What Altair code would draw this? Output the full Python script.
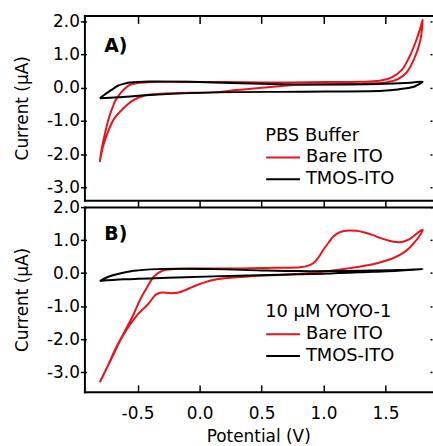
import altair as alt
import pandas as pd

FONT = "DejaVu Sans"
RED = "#e8141b"

# Cyclic voltammograms, potential (V) and current (µA) in scan order.
# Panel A: PBS buffer
a_bare_v = [-0.805, -0.79, -0.77, -0.75, -0.73, -0.70, -0.68, -0.65, -0.62, -0.56, -0.48, -0.40,
            -0.20, 0.20, 0.60, 1.00, 1.30, 1.45, 1.55, 1.63, 1.69, 1.746, 1.785, 1.80,
            1.795, 1.78, 1.73, 1.67, 1.60, 1.50, 1.40, 1.20, 0.80, 0.50, 0.30, 0.11, -0.18,
            -0.34, -0.45, -0.54, -0.62, -0.69, -0.74, -0.78, -0.805]
a_bare_i = [-2.24, -1.85, -1.49, -1.17, -0.89, -0.58, -0.39, -0.22, -0.09, 0.09, 0.15, 0.17,
            0.18, 0.17, 0.16, 0.17, 0.18, 0.21, 0.31, 0.53, 0.91, 1.41, 1.85, 2.06,
            1.80, 1.41, 0.86, 0.46, 0.26, 0.16, 0.13, 0.11, 0.09, 0.00, -0.07, -0.14, -0.16,
            -0.19, -0.24, -0.39, -0.64, -0.94, -1.34, -1.79, -2.24]
a_tmos_v = [-0.805, -0.77, -0.74, -0.70, -0.66, -0.60, -0.56, -0.40, -0.10, 0.11, 0.50, 0.81,
            1.20, 1.50, 1.70, 1.80, 1.76, 1.72, 1.60, 1.48, 0.81, 0.11, -0.40, -0.66, -0.805]
a_tmos_i = [-0.32, -0.22, -0.14, -0.04, 0.06, 0.13, 0.16, 0.19, 0.18, 0.16, 0.12, 0.10,
            0.10, 0.12, 0.15, 0.18, 0.09, 0.02, -0.05, -0.09, -0.12, -0.14, -0.22, -0.29, -0.32]

# Panel B: 10 µM YOYO-1
b_bare_v = [-0.805, -0.74, -0.68, -0.61, -0.54, -0.48, -0.42, -0.37, -0.30, -0.20, -0.05, 0.30,
            0.60, 0.81, 0.87, 0.917, 0.96, 0.997, 1.04, 1.077, 1.12, 1.157, 1.21, 1.264,
            1.33, 1.398, 1.46, 1.53, 1.59, 1.64, 1.69, 1.72, 1.76, 1.80,
            1.77, 1.73, 1.69, 1.63, 1.56, 1.48, 1.398, 1.30, 1.21, 1.077, 0.81, 0.41,
            0.20, 0.11, 0.06, -0.02, -0.10, -0.17, -0.235, -0.30, -0.33, -0.355, -0.42,
            -0.50, -0.57, -0.635, -0.70, -0.765, -0.805]
b_bare_i = [-3.31, -2.81, -2.31, -1.81, -1.31, -0.81, -0.41, -0.11, 0.07, 0.12, 0.14, 0.14,
            0.16, 0.18, 0.22, 0.30, 0.48, 0.70, 0.92, 1.10, 1.22, 1.27, 1.29, 1.28,
            1.23, 1.15, 1.06, 0.98, 0.94, 0.95, 1.02, 1.10, 1.22, 1.32,
            1.10, 0.92, 0.75, 0.58, 0.45, 0.35, 0.27, 0.20, 0.15, 0.08, -0.02, -0.10,
            -0.16, -0.21, -0.26, -0.36, -0.49, -0.59, -0.61, -0.59, -0.61, -0.66, -0.96,
            -1.26, -1.61, -2.01, -2.51, -3.01, -3.31]
b_tmos_v = [-0.805, -0.74, -0.66, -0.53, -0.34, 0.11, 0.50, 0.81, 1.30, 1.60, 1.80,
            1.60, 1.40, 1.00, 0.40, 0.11, -0.26, -0.61, -0.805]
b_tmos_i = [-0.24, -0.12, -0.03, 0.07, 0.12, 0.12, 0.08, 0.06, 0.07, 0.09, 0.12,
            0.07, 0.04, -0.02, -0.07, -0.10, -0.14, -0.19, -0.24]

electrodes = ["Bare ITO", "TMOS-ITO"]
colors = [RED, "black"]

x_ticks = [-0.5, 0.0, 0.5, 1.0, 1.5]
y_ticks = [-3, -2, -1, 0, 1, 2]
x_domain = [-0.929, 1.875]
a_y_domain = [-3.39, 2.18]
b_y_domain = [-3.6, 2.0]

W, H = 350, 186
HYPHEN = "(datum.value < 0 ? '-' : '') + format(abs(datum.value), '.1f')"


def frame(pairs):
    rows = []
    for name, vs, cs in pairs:
        for k, (v, c) in enumerate(zip(vs, cs)):
            rows.append({"potential": v, "current": c, "step": k, "electrode": name})
    return pd.DataFrame(rows)


def border(orient):
    # plain frame edge: domain line only
    return alt.Axis(orient=orient, domain=True, ticks=False, tickSize=0, labels=False,
                    grid=False, title=None)


def panel(df, y_domain, legend_title, legend_y, tag, tag_y, bottom):
    xs = alt.Scale(domain=x_domain, nice=False, zero=False)
    ys = alt.Scale(domain=y_domain, nice=False, zero=False)
    left_axis = alt.Axis(orient="left", offset=-2, tickSize=6, values=y_ticks, labelExpr=HYPHEN,
                         labelPadding=1, domain=False, grid=False, title="Current (µA)",
                         titlePadding=15)
    right_ticks = alt.Axis(orient="right", offset=-2, tickSize=2, values=y_ticks, domain=False,
                           labels=False, grid=False, title=None)
    if bottom:
        x1 = alt.Axis(orient="bottom", domain=True, ticks=False, tickSize=0, values=x_ticks,
                      labelExpr=HYPHEN, labelPadding=14, grid=False, title="Potential (V)",
                      titlePadding=7)
        x2 = alt.Axis(orient="top", domain=True, tickSize=7, values=x_ticks, labels=False,
                      grid=False, title=None)
        x3 = alt.Axis(orient="bottom", offset=-7, tickSize=7, values=x_ticks, domain=False,
                      labels=False, grid=False, title=None)
    else:
        x1 = border("top")
        x2 = border("bottom")
        x3 = alt.Axis(orient="top", offset=-8, tickSize=8, values=x_ticks, domain=False,
                      labels=False, grid=False, title=None)

    lines = alt.Chart(df).mark_line(strokeWidth=2, interpolate="catmull-rom").encode(
        x=alt.X("potential:Q", scale=xs, axis=x1),
        y=alt.Y("current:Q", scale=ys, axis=left_axis),
        color=alt.Color(
            "electrode:N",
            scale=alt.Scale(domain=electrodes, range=colors),
            legend=alt.Legend(
                title=legend_title, orient="none", legendX=182, legendY=legend_y,
                symbolType="stroke", symbolSize=1156, symbolStrokeWidth=2,
                labelFont=FONT, labelFontSize=18, labelColor="black", labelOffset=5,
                titleFont=FONT, titleFontSize=18, titleFontWeight="normal", titleColor="black",
                titlePadding=4, clipHeight=18, rowPadding=4, padding=0,
            ),
        ),
        order="step:Q",
    )
    frame_b = alt.Chart(df).mark_point(opacity=0).encode(
        x=alt.X("potential:Q", scale=xs, axis=x2),
        y=alt.Y("current:Q", scale=ys, axis=right_ticks),
    )
    frame_c = alt.Chart(df).mark_point(opacity=0).encode(
        x=alt.X("potential:Q", scale=xs, axis=x3),
        y=alt.Y("current:Q", scale=ys, axis=border("left")),
    )
    label = alt.Chart(pd.DataFrame({"t": [tag]})).mark_text(
        align="left", baseline="alphabetic", font=FONT, fontSize=19, fontWeight="bold", color="black"
    ).encode(text="t:N", x=alt.value(20), y=alt.value(tag_y))
    return alt.layer(lines, frame_b, frame_c, label).resolve_axis(
        x="independent", y="independent"
    ).properties(width=W, height=H)


df_a = frame([("Bare ITO", a_bare_v, a_bare_i), ("TMOS-ITO", a_tmos_v, a_tmos_i)])
df_b = frame([("Bare ITO", b_bare_v, b_bare_i), ("TMOS-ITO", b_tmos_v, b_tmos_i)])

top = panel(df_a, a_y_domain, "PBS Buffer", 112, "A)", 37, False)
bot = panel(df_b, b_y_domain, "10 µM YOYO-1", 97, "B)", 33, True)

chart = (
    alt.vconcat(top, bot, spacing=-2)
    .resolve_scale(color="independent", y="independent")
    .properties(padding={"left": 13, "top": 11, "right": 0, "bottom": 0})
    .configure_view(stroke=None)
    .configure_axis(labelFont=FONT, titleFont=FONT, labelFontSize=17, titleFontSize=17,
                    titleFontWeight="normal", labelColor="black", titleColor="black",
                    tickColor="black", tickWidth=1.5, domainColor="black", domainWidth=2,
                    domainCap="square")
)

chart.save("out.html", embed_options={"renderer": "svg", "actions": False})
